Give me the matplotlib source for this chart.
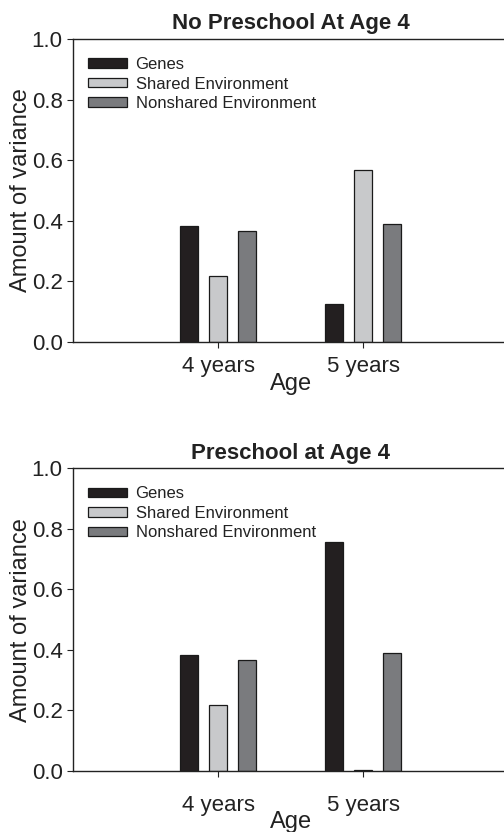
import numpy as np
import matplotlib.pyplot as plt

plt.rcParams['font.family'] = ['Liberation Sans', 'DejaVu Sans']

# data
ages = ["4 years", "5 years"]
components = ["Genes", "Shared Environment", "Nonshared Environment"]
no_preschool = [
    [0.383, 0.125],   # genes
    [0.218, 0.568],   # shared env
    [0.367, 0.390],   # nonshared env
]
preschool = [
    [0.382, 0.757],
    [0.217, 0.003],
    [0.368, 0.390],
]
titles = ["No Preschool At Age 4", "Preschool at Age 4"]
colors = ["#231f20", "#c8c9cb", "#7a7b7e"]

fig = plt.figure(figsize=(5.04, 8.32), dpi=100)
ax_top = fig.add_axes([0.145, 0.589, 0.863, 0.364])
ax_bot = fig.add_axes([0.145, 0.0733, 0.863, 0.3638])

x = np.arange(len(ages))
offsets = [-0.2, 0.0, 0.2]
width = 0.127

for ax, data, title, xpad in zip([ax_top, ax_bot], [no_preschool, preschool], titles, [6, 13]):
    for vals, off, col, lab in zip(data, offsets, colors, components):
        ax.bar(x + off, vals, width, color=col, edgecolor="#1a1a1a",
               linewidth=0.9, label=lab)
    ax.set_xlim(-1, 2)
    ax.set_ylim(0, 1.0)
    ax.set_yticks([0.0, 0.2, 0.4, 0.6, 0.8, 1.0])
    ax.set_yticklabels(["0.0", "0.2", "0.4", "0.6", "0.8", "1.0"])
    ax.set_xticks(x)
    ax.set_xticklabels(ages)
    ax.tick_params(axis="both", labelsize=16, length=4, width=0.8, colors="#222222")
    ax.tick_params(axis="x", pad=xpad)
    ax.set_ylabel("Amount of variance", fontsize=17, color="#222222", labelpad=0)
    ax.set_xlabel("Age", fontsize=17, color="#222222", labelpad=-3)
    ax.set_title(title, fontsize=16, fontweight="bold", color="#222222", pad=7)
    for s in ax.spines.values():
        s.set_linewidth(1.0)
        s.set_color("#222222")
    leg = ax.legend(loc="upper left", bbox_to_anchor=(0.0, 0.99), frameon=False,
                    fontsize=12, handlelength=2.35, handleheight=0.5,
                    handletextpad=0.5, labelspacing=0.27, borderaxespad=0.5)
    for t in leg.get_texts():
        t.set_color("#222222")

fig.savefig("out.png", dpi=100)
